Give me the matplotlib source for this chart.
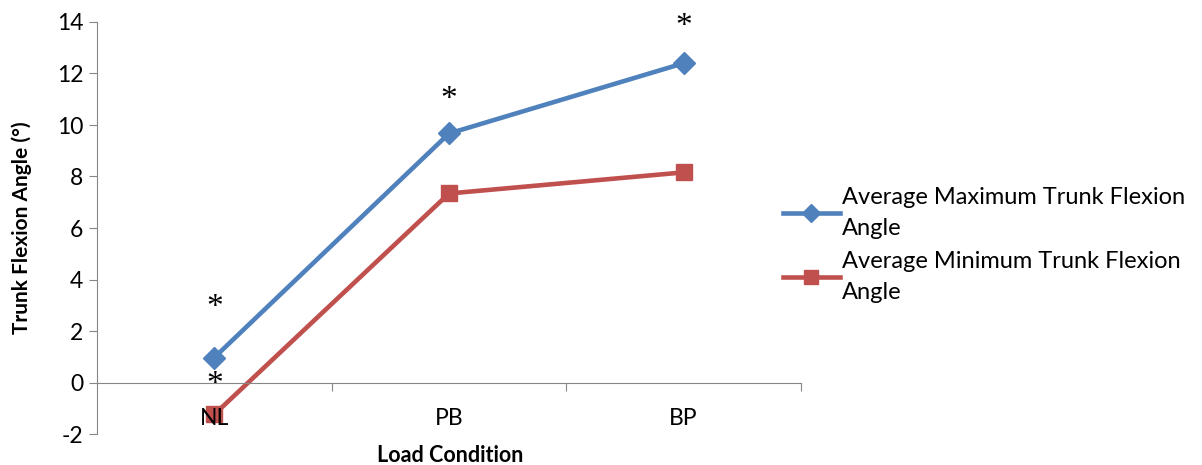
import matplotlib.pyplot as plt
import numpy as np

conditions = ['NL', 'PB', 'BP']
max_angle = [0.97, 9.67, 12.4]
min_angle = [-1.24, 7.34, 8.16]
star_y = [2.9, 11.0, 13.8]      # asterisks above the max series
star_min_y = [-0.1]             # asterisk for NL minimum

plt.rcParams['font.family'] = ['Lato', 'DejaVu Sans']
plt.rcParams['axes.unicode_minus'] = False

fig = plt.figure(figsize=(12.02, 4.65), dpi=100)
ax = fig.add_axes([97/1202, 1-434/465, (801-97)/1202, (434-22)/465])

x = np.arange(len(conditions))
ax.plot(x, max_angle, color='#4F81BD', lw=3.3, marker='D', ms=11,
        label='Average Maximum Trunk Flexion\nAngle')
ax.plot(x, min_angle, color='#C0504D', lw=3.3, marker='s', ms=12,
        label='Average Minimum Trunk Flexion\nAngle')

for xi, yi in zip(x, star_y):
    ax.text(xi, yi, '*', ha='center', va='center', fontsize=24,
            family='Liberation Serif')
ax.text(0, star_min_y[0], '*', ha='center', va='center', fontsize=24,
        family='Liberation Serif')

ax.set_xlim(-0.5, 2.5)
ax.set_ylim(-2, 14)
ax.set_yticks(np.arange(-2, 15, 2))

for s in ['top', 'right']:
    ax.spines[s].set_visible(False)
ax.spines['bottom'].set_position(('data', 0))
ax.spines['bottom'].set_color('#868686')
ax.spines['left'].set_color('#868686')
ax.xaxis.set_zorder(3)

ax.set_xticks([0.5, 1.5, 2.5])
ax.set_xticklabels([])
ax.tick_params(axis='x', which='major', length=6, direction='out', color='#868686')
ax.set_xticks(x, minor=True)
ax.set_xticklabels(conditions, minor=True)
ax.tick_params(axis='x', which='minor', length=0, pad=18, labelsize=16.5)
ax.tick_params(axis='y', length=6, direction='out', color='#868686', labelsize=16.5, pad=4)

ax.set_ylabel('Trunk Flexion Angle (°)', fontsize=15, fontweight='bold')
ax.yaxis.set_label_coords((32-97)/704, 0.5)
fig.text(450/1202, 1-455/465, 'Load Condition', ha='center', va='center',
         fontsize=15.5, fontweight='bold')

leg = ax.legend(loc='center left', bbox_to_anchor=(783/1202, 1-245/465),
                bbox_transform=fig.transFigure, frameon=False, borderpad=0,
                borderaxespad=0, fontsize=17, handlelength=2.4,
                handletextpad=0.1, labelspacing=0.5, markerscale=0.85)
for t in leg.get_texts():
    t.set_linespacing(1.6)

fig.savefig('out.png', dpi=100)
